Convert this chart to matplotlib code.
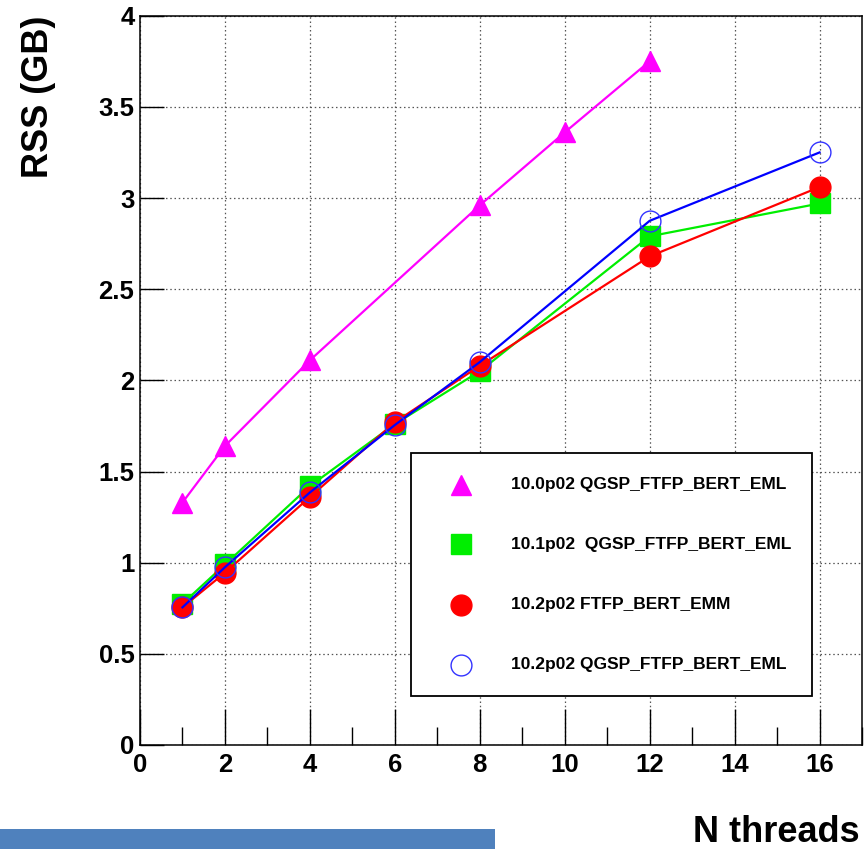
import matplotlib
matplotlib.use("Agg")
import matplotlib.pyplot as plt
from matplotlib.patches import Rectangle
from matplotlib.lines import Line2D
from matplotlib.ticker import MultipleLocator

plt.rcParams['font.family'] = ['Liberation Sans', 'DejaVu Sans']

# ---- data ----
x_100 = [1, 2, 4, 8, 10, 12]
rss_100 = [1.33, 1.64, 2.11, 2.96, 3.36, 3.75]

x_101 = [1, 2, 4, 6, 8, 12, 16]
rss_101 = [0.775, 0.99, 1.42, 1.76, 2.05, 2.79, 2.97]

x_102_emm = [1, 2, 4, 6, 8, 12, 16]
rss_102_emm = [0.755, 0.945, 1.36, 1.77, 2.08, 2.68, 3.06]

x_102_eml = [1, 2, 4, 6, 8, 12, 16]
rss_102_eml = [0.755, 0.975, 1.385, 1.755, 2.10, 2.875, 3.25]

labels = ["10.0p02 QGSP_FTFP_BERT_EML",
          "10.1p02  QGSP_FTFP_BERT_EML",
          "10.2p02 FTFP_BERT_EMM",
          "10.2p02 QGSP_FTFP_BERT_EML"]
x_ticks = [0, 2, 4, 6, 8, 10, 12, 14, 16]
y_ticks = [0, 0.5, 1, 1.5, 2, 2.5, 3, 3.5, 4]
y_tick_labels = ["0", "0.5", "1", "1.5", "2", "2.5", "3", "3.5", "4"]

W, H = 864, 849
fig = plt.figure(figsize=(W / 100, H / 100), dpi=100)
L, R, T, B = 140, 862, 15.7, 745
ax = fig.add_axes([L / W, 1 - B / H, (R - L) / W, (B - T) / H])

ax.set_xlim(0, 17)
ax.set_ylim(0, 4)

styles = [
    dict(color='#ff00ff', marker='^', ms=14, mfc='#ff00ff', mec='#ff00ff'),
    dict(color='#00ee00', marker='s', ms=14, mfc='#00ee00', mec='#00ee00'),
    dict(color='#ff0000', marker='o', ms=15, mfc='#ff0000', mec='#ff0000'),
    dict(color='#0000ff', marker='o', ms=15, mfc='none', mec='#3333ff', mew=1.0),
]
series = [(x_100, rss_100), (x_101, rss_101), (x_102_emm, rss_102_emm), (x_102_eml, rss_102_eml)]
for i, ((xs, ys), st) in enumerate(zip(series, styles)):
    ax.plot(xs, ys, lw=1.6, zorder=3 + i, **st)

# axes / ticks
ax.set_xticks(x_ticks)
ax.set_yticks(y_ticks)
ax.set_yticklabels(y_tick_labels)
ax.xaxis.set_minor_locator(MultipleLocator(1))
ax.tick_params(axis='x', which='major', direction='in', length=26, width=1.0,
               labelsize=18.5, pad=6, top=False)
ax.tick_params(axis='x', which='minor', direction='in', length=13, width=1.0, top=False)
ax.tick_params(axis='y', which='major', direction='in', length=17, width=1.0,
               labelsize=18.5, pad=4, right=False)
for lab in ax.get_xticklabels() + ax.get_yticklabels():
    lab.set_fontweight('bold')
for s in ax.spines.values():
    s.set_linewidth(1.1)
ax.grid(True, which='major', linestyle=(0, (1.2, 2.2)), color='#555555', lw=0.9)
ax.set_axisbelow(True)

ax.set_ylabel("RSS (GB)", fontsize=26, fontweight='bold', loc='top', labelpad=0)
ax.yaxis.set_label_coords((56 - L) / (R - L), 1.0)

fig.text(860 / W, 1 - 842 / H, "N threads", fontsize=26, fontweight='bold',
         ha='right', va='baseline')

# bottom slide bar
fig.patches.append(Rectangle((0, 0), 495 / W, (H - 829) / H, transform=fig.transFigure,
                             facecolor='#4f81bd', edgecolor='none'))

# legend (manual)
def ax_x(px):
    return (px - L) / (R - L)

def ax_y(py):
    return (B - py) / (B - T)

ax.add_patch(Rectangle((ax_x(411), ax_y(696)), ax_x(812) - ax_x(411), ax_y(453) - ax_y(696),
                       transform=ax.transAxes, facecolor='white', edgecolor='black',
                       lw=1.3, zorder=10))
rows = [485, 544, 605, 665]
for lab, st, py in zip(labels, styles, rows):
    stt = dict(st)
    stt.pop('color')
    ax.add_line(Line2D([ax_x(461)], [ax_y(py)], transform=ax.transAxes, linestyle='none',
                       zorder=11, **stt))
    ax.text(ax_x(511), ax_y(py), lab, transform=ax.transAxes, fontsize=12.5,
            fontweight='bold', va='center', ha='left', zorder=11)

fig.savefig("out.png", dpi=100)
